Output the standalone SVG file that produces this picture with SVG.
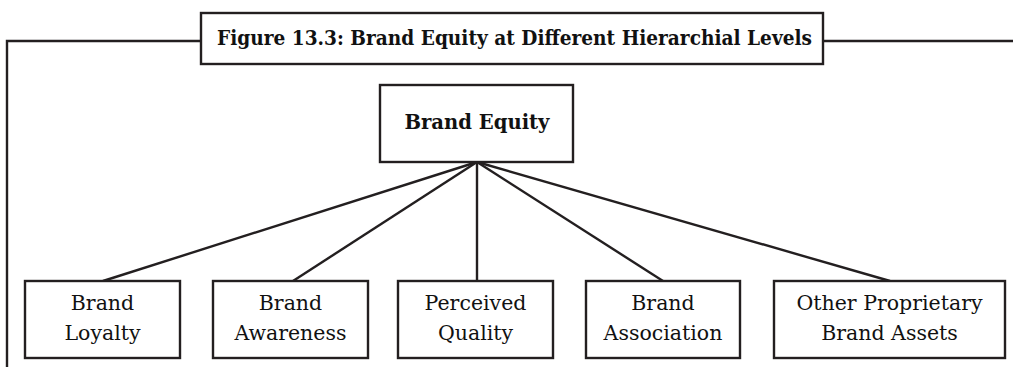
<svg xmlns="http://www.w3.org/2000/svg" width="1013" height="367" viewBox="0 0 1013 367">
<style>
.box{fill:#fff;stroke:#231f20;stroke-width:2.4}
.ln{stroke:#231f20;stroke-width:2.4;fill:none}
.t{font-family:"DejaVu Serif","Liberation Serif",serif;font-size:20.5px;fill:#111;text-anchor:middle}
.b{font-weight:bold}
</style>
<rect width="1013" height="367" fill="#fff"/>
<g id="frame">
<polyline class="ln" points="7,367 7,41 201,41"/>
<line class="ln" x1="823" y1="41" x2="1013" y2="41"/>
</g>
<g id="title">
<rect class="box" x="201" y="13" width="622" height="51"/>
<text class="t b" x="514.5" y="45" font-size="18" textLength="595" lengthAdjust="spacingAndGlyphs">Figure 13.3: Brand Equity at Different Hierarchial Levels</text>
</g>
<g id="connectors">
<line class="ln" x1="477" y1="162" x2="103" y2="281"/>
<line class="ln" x1="477" y1="162" x2="293" y2="281"/>
<line class="ln" x1="477" y1="162" x2="477" y2="281" stroke-width="3.4"/>
<line class="ln" x1="477" y1="162" x2="663" y2="281"/>
<line class="ln" x1="477" y1="162" x2="890" y2="281"/>
</g>
<g id="brand-equity">
<rect class="box" x="380" y="85" width="193" height="77"/>
<text class="t b" x="477" y="129" font-size="21" textLength="145" lengthAdjust="spacingAndGlyphs">Brand Equity</text>
</g>
<g id="brand-loyalty">
<rect class="box" x="25" y="281" width="155" height="77"/>
<text class="t" x="102.5" y="310">Brand</text>
<text class="t" x="102.5" y="340">Loyalty</text>
</g>
<g id="brand-awareness">
<rect class="box" x="213" y="281" width="155" height="77"/>
<text class="t" x="290.5" y="310">Brand</text>
<text class="t" x="290.5" y="340">Awareness</text>
</g>
<g id="perceived-quality">
<rect class="box" x="398" y="281" width="155" height="77"/>
<text class="t" x="475.5" y="310">Perceived</text>
<text class="t" x="475.5" y="340">Quality</text>
</g>
<g id="brand-association">
<rect class="box" x="586" y="281" width="154" height="77"/>
<text class="t" x="663" y="310">Brand</text>
<text class="t" x="663" y="340">Association</text>
</g>
<g id="other-assets">
<rect class="box" x="774" y="281" width="231" height="77"/>
<text class="t" x="889.5" y="310">Other Proprietary</text>
<text class="t" x="889.5" y="340">Brand Assets</text>
</g>
</svg>
